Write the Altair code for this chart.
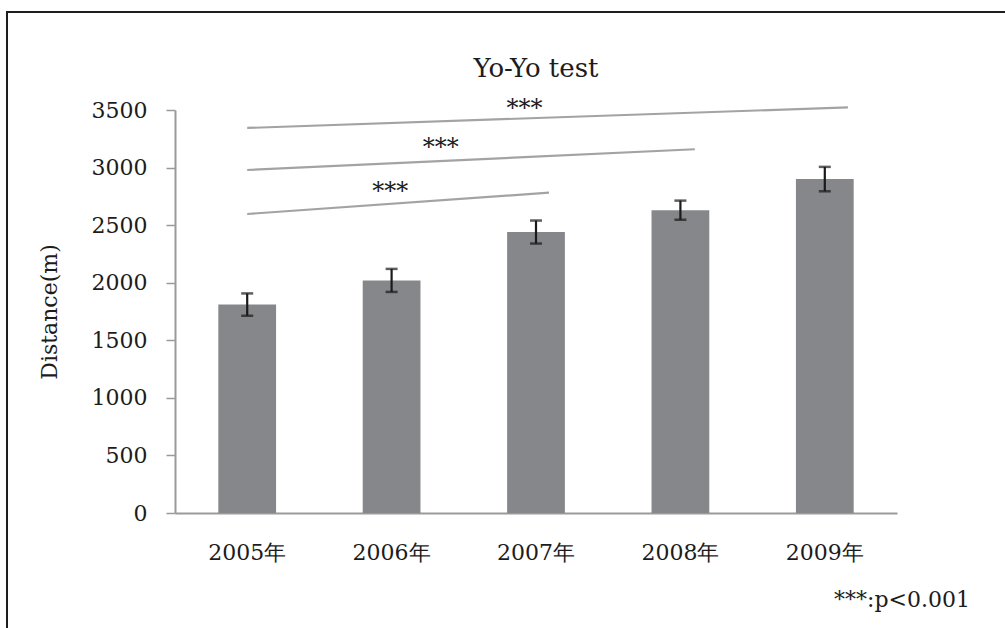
import altair as alt
import pandas as pd

# Yo-Yo test distance by year (mean and error)
years = ["2005年", "2006年", "2007年", "2008年", "2009年"]
means = [1810, 2020, 2440, 2630, 2900]
errs = [97, 100, 100, 83, 106]

# significance brackets, x in category-position units (category i centred at i + 0.5)
sig_x1 = [0.5, 0.5, 0.5]
sig_x2 = [2.59, 3.60, 4.66]
sig_y1 = [2597, 2979, 3344]
sig_y2 = [2782, 3159, 3523]
star_x = [1.49, 1.84, 2.42]
star_y = [2849, 3231, 3572]
star_text = ["***", "***", "***"]

y_ticks = [0, 500, 1000, 1500, 2000, 2500, 3000, 3500]

FONT = "DejaVu Serif"
W, H = 722, 403

bars_df = pd.DataFrame({
    "year": years,
    "mean": means,
    "lo": [m - e for m, e in zip(means, errs)],
    "hi": [m + e for m, e in zip(means, errs)],
})
sig_df = pd.DataFrame({"x1": sig_x1, "x2": sig_x2, "y1": sig_y1, "y2": sig_y2})
star_df = pd.DataFrame({"x": star_x, "y": star_y, "t": star_text})
one = pd.DataFrame({"k": [0]})


def band_scale():
    return alt.Scale(domain=years, paddingInner=0.6, paddingOuter=0.3)


yscale = alt.Scale(domain=[0, 3500], nice=False, zero=True)
xband = alt.X(
    "year:N",
    sort=years,
    scale=band_scale(),
    axis=alt.Axis(
        title=None, labelAngle=0, ticks=False, labelPadding=29,
        labelFont=FONT, labelFontSize=22, labelColor="#1c1c1c",
        domainColor="#9a9a9a", domainWidth=2,
    ),
)
xband_hidden = alt.X("year:N", sort=years, scale=band_scale(), axis=None)

bars = alt.Chart(bars_df).mark_bar(color="#86878b").encode(
    x=xband,
    y=alt.Y(
        "mean:Q",
        scale=yscale,
        axis=alt.Axis(
            values=y_ticks, format="d", title="Distance(m)", grid=False,
            tickSize=9, tickColor="#9a9a9a", tickWidth=1.5,
            domainColor="#9a9a9a", domainWidth=2,
            labelPadding=19, labelFont=FONT, labelFontSize=22, labelColor="#1c1c1c",
            titleFont=FONT, titleFontSize=22, titleFontWeight="normal",
            titleColor="#1c1c1c", titlePadding=30,
        ),
    ),
)

err_rule = alt.Chart(bars_df).mark_rule(color="#1a1a1a", strokeWidth=2.2).encode(
    x=xband_hidden, y="lo:Q", y2="hi:Q"
)
cap_lo = alt.Chart(bars_df).mark_tick(
    color="#1a1a1a", orient="horizontal", size=12, thickness=2.5
).encode(x=xband_hidden, y="lo:Q")
cap_hi = alt.Chart(bars_df).mark_tick(
    color="#1a1a1a", orient="horizontal", size=12, thickness=2.5
).encode(x=xband_hidden, y="hi:Q")

# significance lines and stars share the y scale; their x is a linear
# scale over the same width, so they can sit between categories
xq = alt.Scale(domain=[0, 5], nice=False, zero=False)
sig_lines = alt.Chart(sig_df).mark_rule(color="#a3a3a3", strokeWidth=2.2).encode(
    x=alt.X("x1:Q", scale=xq, axis=None),
    x2="x2:Q",
    y=alt.Y("y1:Q", scale=yscale),
    y2="y2:Q",
)
stars = alt.Chart(star_df).mark_text(
    font=FONT, fontSize=24, color="#1c1c1c", baseline="alphabetic", dy=14
).encode(
    x=alt.X("x:Q", scale=xq, axis=None),
    y=alt.Y("y:Q", scale=yscale),
    text="t:N",
)

# chart heading and footnote
heading = alt.Chart(one).mark_text(
    text="Yo-Yo test", font=FONT, fontSize=26, color="#1c1c1c",
    align="center", baseline="alphabetic",
).encode(x=alt.value(W / 2), y=alt.value(-33))

footnote = alt.Chart(one).mark_text(
    text="***:p<0.001", font=FONT, fontSize=22, color="#1c1c1c",
    align="right", baseline="alphabetic",
).encode(x=alt.value(795), y=alt.value(497))

# outer frame (top and left edges)
frame_top = alt.Chart(one).mark_rule(color="#1e1e1e", strokeWidth=2).encode(
    x=alt.value(-168), x2=alt.value(840), y=alt.value(-98)
)
frame_left = alt.Chart(one).mark_rule(color="#1e1e1e", strokeWidth=2).encode(
    x=alt.value(-168), y=alt.value(-99), y2=alt.value(530)
)

chart = (
    alt.layer(bars, err_rule, cap_lo, cap_hi, sig_lines, stars,
              heading, footnote, frame_top, frame_left)
    .resolve_scale(x="independent")
    .properties(
        width=W,
        height=H,
        background="white",
        padding={"left": 175, "top": 110, "right": 108, "bottom": 115},
        autosize=alt.AutoSizeParams(type="none"),
    )
    .configure_view(strokeWidth=0, stroke=None, fill=None)
)

chart.save("out.html", embed_options={"renderer": "svg", "actions": False})
